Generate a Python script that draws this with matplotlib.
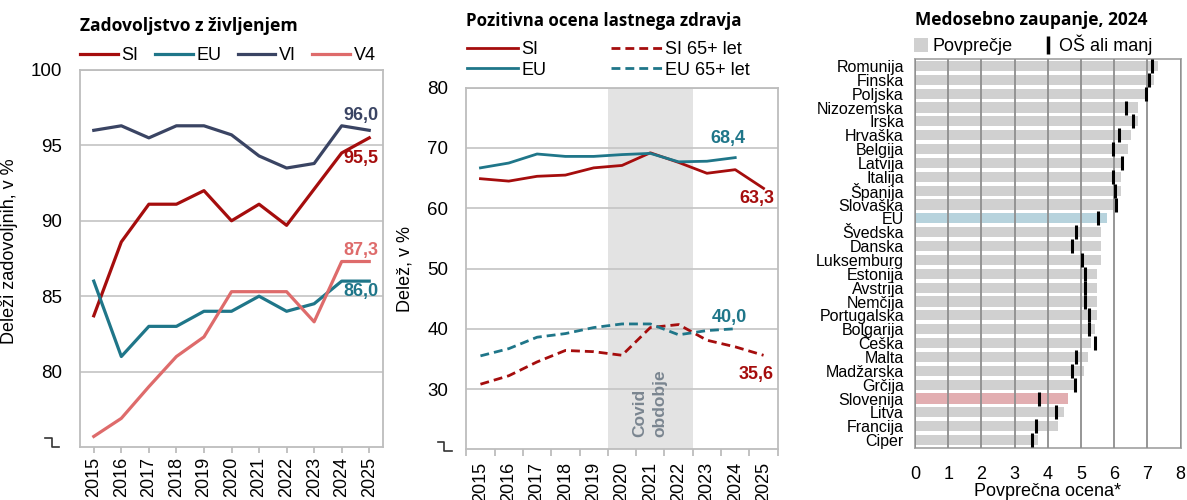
import matplotlib
matplotlib.use("Agg")
import matplotlib.pyplot as plt
from matplotlib.lines import Line2D
from matplotlib.patches import Patch
from matplotlib.transforms import IdentityTransform

plt.rcParams['font.family'] = ['Liberation Sans', 'DejaVu Sans']

# ---------------- data ----------------
years = list(range(2015, 2026))

# Panel 1: life satisfaction (share satisfied, %)
sat_si = [83.7, 88.6, 91.1, 91.1, 92.0, 90.0, 91.1, 89.7, 92.1, 94.5, 95.5]
sat_eu = [86.0, 81.0, 83.0, 83.0, 84.0, 84.0, 85.0, 84.0, 84.5, 86.0, 86.0]
sat_vi = [96.0, 96.3, 95.5, 96.3, 96.3, 95.7, 94.3, 93.5, 93.8, 96.3, 96.0]
sat_v4 = [75.7, 76.9, 79.0, 81.0, 82.3, 85.3, 85.3, 85.3, 83.3, 87.3, 87.3]

# Panel 2: positive self-assessed health (%)
years_eu = list(range(2015, 2025))
hlth_si = [64.9, 64.5, 65.3, 65.5, 66.7, 67.1, 69.2, 67.6, 65.8, 66.4, 63.3]
hlth_eu = [66.7, 67.5, 69.0, 68.6, 68.6, 68.9, 69.1, 67.7, 67.8, 68.4]
hlth_si65 = [30.8, 32.2, 34.5, 36.4, 36.2, 35.6, 40.2, 40.7, 38.1, 37.0, 35.6]
hlth_eu65 = [35.5, 36.7, 38.6, 39.2, 40.2, 40.8, 40.8, 39.0, 39.7, 40.0]
covid_start, covid_end = 2020, 2022

# Panel 3: interpersonal trust, 2024
countries = ["Romunija", "Finska", "Poljska", "Nizozemska", "Irska", "Hrvaška",
             "Belgija", "Latvija", "Italija", "Španija", "Slovaška", "EU",
             "Švedska", "Danska", "Luksemburg", "Estonija", "Avstrija", "Nemčija",
             "Portugalska", "Bolgarija", "Češka", "Malta", "Madžarska", "Grčija",
             "Slovenija", "Litva", "Francija", "Ciper"]
trust_avg = [7.31, 7.21, 6.98, 6.71, 6.71, 6.51, 6.41, 6.2, 6.2, 6.2, 6.07, 5.79,
             5.6, 5.6, 5.6, 5.48, 5.48, 5.48, 5.48, 5.41, 5.29, 5.2, 5.08, 4.83,
             4.6, 4.5, 4.3, 3.69]
trust_low = [7.15, 7.04, 6.96, 6.35, 6.55, 6.14, 5.95, 6.23, 5.95, 6.03, 6.04, 5.52,
             4.84, 4.72, 5.04, 5.12, 5.12, 5.12, 5.23, 5.23, 5.42, 4.84, 4.72, 4.83,
             3.72, 4.24, 3.64, 3.52]

# ---------------- style ----------------
C_SI = '#A50D0D'
C_EU = '#1F7689'
C_VI = '#3A4463'
C_V4 = '#DE6B6B'
C_GRID = '#C4C4C4'
C_SPINE = '#BDBDBD'
TITLE_FONT = ['Open Sans', 'Lato', 'DejaVu Sans']

W, H = 1187, 500
fig = plt.figure(figsize=(W / 100, H / 100), dpi=100)


def fmt(v):
    return f"{v:.1f}".replace('.', ',')


def px_axes(l, t, r, b):
    return fig.add_axes([l / W, 1 - b / H, (r - l) / W, (b - t) / H])


def style_line_axes(ax):
    for s in ax.spines.values():
        s.set_color(C_SPINE)
        s.set_linewidth(1.3)
    ax.grid(axis='y', color=C_GRID, lw=1.2)
    ax.set_axisbelow(True)
    ax.tick_params(axis='y', length=0, pad=13, labelsize=13.5)
    ax.tick_params(axis='x', which='both', color=C_SPINE, width=1.3)


def axis_break(ax, x0, x1, x2, y0, y1):
    # small step symbol at the bottom of the y axis (offsets in pixels from axes corner)
    ox, oy = ax.transAxes.transform((0, 0))
    ln = Line2D([ox + x for x in [x0, x1, x1, x2]], [oy + y for y in [y0, y0, y1, y1]],
                color='#333333', lw=1.2, clip_on=False)
    ln.set_transform(IdentityTransform())
    fig.add_artist(ln)


# ---------------- Panel 1 ----------------
ax1 = px_axes(80, 70, 383, 447)
style_line_axes(ax1)
l_si, = ax1.plot(years, sat_si, color=C_SI, lw=2.3, label='SI')
l_eu, = ax1.plot(years, sat_eu, color=C_EU, lw=2.3, label='EU')
l_vi, = ax1.plot(years, sat_vi, color=C_VI, lw=2.3, label='VI')
l_v4, = ax1.plot(years, sat_v4, color=C_V4, lw=2.3, label='V4')
ax1.set_xlim(2014.5, 2025.5)
ax1.set_ylim(75, 100)
ax1.set_yticks([80, 85, 90, 95, 100])
ax1.set_xticks(years)
ax1.set_xticklabels([str(y) for y in years], rotation=90, fontsize=13)
ax1.tick_params(axis='x', length=4, pad=3)
ax1.set_ylabel('Deleži zadovoljnih, v %', fontsize=13)
ax1.yaxis.set_label_coords(-0.206, 0.52)

for vals, col, dy in [(sat_vi, C_VI, 11), (sat_si, C_SI, -15),
                      (sat_v4, C_V4, 8), (sat_eu, C_EU, -7.5)]:
    ax1.annotate(fmt(vals[-1]), (years[-1], vals[-1]), xytext=(-6, dy),
                 textcoords='offset points', ha='center', va='center',
                 color=col, fontsize=13, fontweight='bold')

fig.text(80 / W, 1 - 26 / H, 'Zadovoljstvo z življenjem', fontsize=12.6,
         fontweight='bold', family=TITLE_FONT, va='center', ha='left')
fig.legend(handles=[l_si, l_eu, l_vi, l_v4], loc='center left',
           bbox_to_anchor=(80 / W, 1 - 56 / H), ncol=4, frameon=False,
           fontsize=13, handlelength=2.1, handletextpad=0.2, columnspacing=0.9,
           borderpad=0, borderaxespad=0)

# ---------------- Panel 2 ----------------
ax2 = px_axes(466.3, 87.7, 777.7, 449.3)
style_line_axes(ax2)
ax2.axvspan(covid_start - 0.5, covid_end + 0.5, color='#E3E3E3', lw=0, zorder=0.2)
h_si, = ax2.plot(years, hlth_si, color=C_SI, lw=2.0, label='SI')
h_eu, = ax2.plot(years_eu, hlth_eu, color=C_EU, lw=2.0, label='EU')
h_si65, = ax2.plot(years, hlth_si65, color=C_SI, lw=2.0, ls=(0, (3.2, 1.8)),
                   label='SI 65+ let')
h_eu65, = ax2.plot(years_eu, hlth_eu65, color=C_EU, lw=2.0, ls=(0, (3.2, 1.8)),
                   label='EU 65+ let')
ax2.set_xlim(2014.5, 2025.5)
ax2.set_ylim(20, 80)
ax2.set_yticks([30, 40, 50, 60, 70, 80])
ax2.set_xticks(years)
ax2.set_xticklabels([str(y) for y in years], rotation=90, fontsize=13)
ax2.set_xticks([y - 0.5 for y in years] + [years[-1] + 0.5], minor=True)
ax2.tick_params(axis='x', which='major', length=0, pad=9)
ax2.tick_params(axis='x', which='minor', length=5)
ax2.set_ylabel('Delež, v %', fontsize=13)
ax2.yaxis.set_label_coords(-0.17, 0.5)

covid_mid = (covid_start + covid_end) / 2
for txt, dx in [('Covid', -7.5), ('obdobje', 7)]:
    ax2.annotate(txt, (covid_mid, 22.0), xytext=(dx, 0), textcoords='offset points',
                 rotation=90, ha='center', va='bottom', color='#7A8590',
                 fontsize=12.5, fontweight='bold')

for xs, vals, col, dx, dy in [(years_eu, hlth_eu, C_EU, -5, 14), (years, hlth_si, C_SI, -5, -7.5),
                              (years_eu, hlth_eu65, C_EU, -4, 8), (years, hlth_si65, C_SI, -5, -13.5)]:
    ax2.annotate(fmt(vals[-1]), (xs[-1], vals[-1]), xytext=(dx, dy),
                 textcoords='offset points', ha='center', va='center',
                 color=col, fontsize=13, fontweight='bold')

fig.text(466 / W, 1 - 21 / H, 'Pozitivna ocena lastnega zdravja', fontsize=12.2,
         fontweight='bold', family=TITLE_FONT, va='center', ha='left')
fig.legend(handles=[h_si, h_eu, h_si65, h_eu65], loc='center left',
           bbox_to_anchor=(467 / W, 1 - 60 / H), ncol=2, frameon=False,
           fontsize=13, handlelength=2.8, handletextpad=0.2, columnspacing=3.6,
           labelspacing=0.2, borderpad=0, borderaxespad=0)

# ---------------- Panel 3 ----------------
ax3 = px_axes(915, 59, 1180.7, 447.7)
ypos = list(range(len(countries)))
bar_colors = ['#B7D3DD' if c == 'EU' else '#E2AEB1' if c == 'Slovenija' else '#D0D0D0'
              for c in countries]
ax3.barh(ypos, trust_avg, height=0.74, color=bar_colors, zorder=1)
ax3.plot(trust_low, ypos, ls='none', marker='|', ms=10.5, mew=2.2, color='black', zorder=3)
ax3.set_xlim(0, 8)
ax3.set_ylim(len(countries) - 0.45, -0.5)
ax3.set_yticks(ypos)
ax3.set_yticklabels(countries, fontsize=11.5)
ax3.tick_params(axis='y', length=0, pad=8)
ax3.set_xticks(range(0, 9))
ax3.tick_params(axis='x', length=0, pad=13, labelsize=13)
ax3.grid(axis='x', color='#8E8E8E', lw=1.3, zorder=2)
ax3.set_axisbelow(False)
for s in ax3.spines.values():
    s.set_color('#A8A8A8')
    s.set_linewidth(1.3)
ax3.set_xlabel('Povprečna ocena*', fontsize=13)
ax3.xaxis.set_label_coords(0.5, -0.09)

fig.text(915 / W, 1 - 20 / H, 'Medosebno zaupanje, 2024', fontsize=12.5,
         fontweight='bold', family=TITLE_FONT, va='center', ha='left')
leg_h = [Patch(facecolor='#D0D0D0', edgecolor='none'),
         Line2D([], [], ls='none', marker='|', ms=13, mew=2.5, color='black')]
fig.legend(handles=leg_h, labels=['Povprečje', 'OŠ ali manj'], loc='center left',
           bbox_to_anchor=(914 / W, 1 - 45 / H), ncol=2, frameon=False,
           fontsize=13, handlelength=0.8, handleheight=0.8, handletextpad=0.2,
           columnspacing=1.6, borderpad=0, borderaxespad=0)

axis_break(ax1, -35, -28, -21, 9, 0)
axis_break(ax2, -28, -22, -14, 7, -2)

fig.savefig('out.png', dpi=100)
